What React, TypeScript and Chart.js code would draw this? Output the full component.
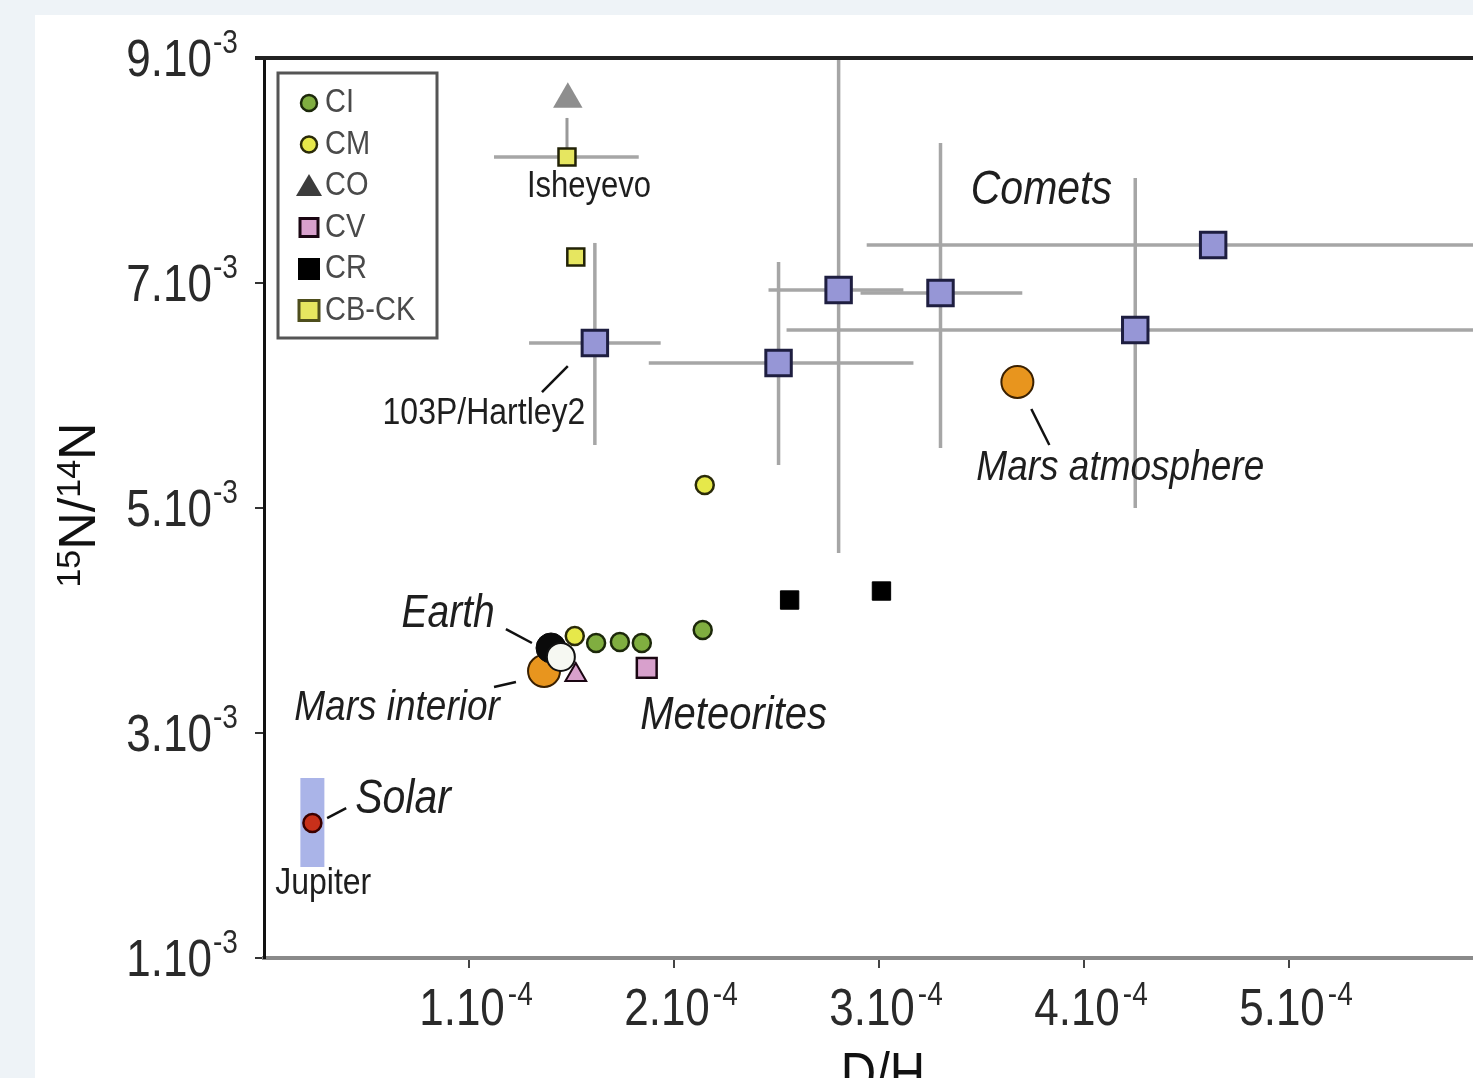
import React, { useEffect, useRef } from "react";
import { Chart, registerables } from "chart.js";

Chart.register(...registerables);

// ---------------- data: D/H (x) and 15N/14N (y) ----------------
const ciDH = [1.62e-4, 1.736e-4, 1.843e-4, 2.14e-4];
const ciN = [3.8e-3, 3.809e-3, 3.8e-3, 3.916e-3];
const cmDH = [1.516e-4, 2.15e-4];
const cmN = [3.862e-3, 5.204e-3];
const cvDH = [1.867e-4];
const cvN = [3.578e-3];
const cvTriDH = [1.521e-4];
const cvTriN = [3.516e-3];
const crDH = [2.564e-4, 3.012e-4];
const crN = [4.182e-3, 4.262e-3];
const cbckDH = [1.478e-4, 1.521e-4];
const cbckN = [8.12e-3, 7.231e-3];
const isheyevoLimitDH = [1.482e-4];
const isheyevoLimitN = [8.633e-3];
const isheyevoBarDH = [1.122e-4, 1.828e-4];
const isheyevoBarN = [8.12e-3, 8.467e-3];

const cometDH = [1.614e-4, 2.51e-4, 2.803e-4, 3.3e-4, 4.25e-4, 4.63e-4];
const cometN = [6.467e-3, 6.289e-3, 6.938e-3, 6.911e-3, 6.582e-3, 7.338e-3];
const cometDHlo = [1.293e-4, 1.877e-4, 2.461e-4, 2.91e-4, 2.549e-4, 2.94e-4];
const cometDHhi = [1.935e-4, 3.168e-4, 3.119e-4, 3.699e-4, 6.6e-4, 6.6e-4];
const cometNlo: (number | null)[] = [5.56e-3, 5.382e-3, 4.6e-3, 5.533e-3, 5.0e-3, null];
const cometNhi: (number | null)[] = [7.356e-3, 7.187e-3, 9.6e-3, 8.244e-3, 7.933e-3, null];

const marsAtmDH = [3.675e-4];
const marsAtmN = [6.12e-3];
const marsIntDH = [1.366e-4];
const marsIntN = [3.551e-3];
const earthDH = [1.448e-4];
const earthN = [3.676e-3];
const earthRimDH = [1.4e-4];
const earthRimN = [3.756e-3];
const solarDH = [0.236e-4];
const solarN = [2.2e-3];
const jupiterDH = [0.236e-4];
const jupiterNlo = [1.809e-3];
const jupiterNhi = [2.6e-3];

const xTicks = [1e-4, 2e-4, 3e-4, 4e-4, 5e-4];
const xTickMain = ["1.10", "2.10", "3.10", "4.10", "5.10"];
const xTickSup = "-4";
const yTicks = [1e-3, 3e-3, 5e-3, 7e-3, 9e-3];
const yTickMain = ["1.10", "3.10", "5.10", "7.10", "9.10"];
const yTickSup = "-3";

const legendLabels = ["CI", "CM", "CO", "CV", "CR", "CB-CK"];

const noteTexts = ["Isheyevo", "Comets", "103P/Hartley2", "Mars atmosphere", "Earth", "Mars interior", "Meteorites", "Solar", "Jupiter"];
const noteDH = [1.585e-4, 3.792e-4, 1.073e-4, 4.177e-4, 0.898e-4, 0.649e-4, 2.291e-4, 0.678e-4, 0.289e-4];
const noteN = [7.853e-3, 7.818e-3, 5.836e-3, 5.356e-3, 4.058e-3, 3.222e-3, 3.151e-3, 2.404e-3, 1.658e-3];

const leaderDH1 = [1.356e-4, 3.743e-4, 1.18e-4, 1.122e-4, 0.308e-4];
const leaderN1 = [6.031e-3, 5.88e-3, 3.924e-3, 3.409e-3, 2.244e-3];
const leaderDH2 = [1.482e-4, 3.831e-4, 1.307e-4, 1.229e-4, 0.401e-4];
const leaderN2 = [6.262e-3, 5.56e-3, 3.8e-3, 3.453e-3, 2.333e-3];

// ---------------- styles ----------------
const FONT = '"Liberation Sans", Arial, Helvetica, sans-serif';
const SY = 1.17;
const noteItalic = [false, true, false, true, true, true, true, true, false];
const noteSize = [31, 41, 32, 37, 39, 37, 40, 41, 32];

const C = {
  ciFill: "#80ae40", ciEdge: "#1c280a",
  cmFill: "#e6e84a", cmEdge: "#2a2a08",
  coFill: "#3c3c3c",
  cvFill: "#d8a0cc", cvEdge: "#1a0612",
  cr: "#000000",
  cbFill: "#e6e660", cbEdge: "#4e4e1c",
  cometFill: "#9696d6", cometEdge: "#1e1e40",
  orange: "#e8951e", orangeEdge: "#3a2000",
  solar: "#c8301a", solarEdge: "#3a0000",
  jupiter: "#aab4e8",
  err: "#a6a6a6",
};

const W = 1480;
const H = 1080;
const AREA_LEFT = 229;
const AREA_RIGHT = 1461;
const AREA_TOP = 43;
const AREA_BOTTOM = 943;

const pts = (xs: number[], ys: number[]) => xs.map((x, i) => ({ x, y: ys[i] }));

function drawText(
  ctx: CanvasRenderingContext2D,
  s: string,
  x: number,
  y: number,
  size: number,
  o: { italic?: boolean; align?: CanvasTextAlign; baseline?: CanvasTextBaseline; color?: string; sy?: number } = {}
) {
  ctx.save();
  ctx.font = `${o.italic ? "italic " : ""}${size}px ${FONT}`;
  ctx.textAlign = o.align || "left";
  ctx.textBaseline = o.baseline || "alphabetic";
  ctx.fillStyle = o.color || "#1a1a1a";
  ctx.translate(x, y);
  ctx.scale(1, o.sy ?? SY);
  ctx.fillText(s, 0, 0);
  ctx.restore();
}

function textWidth(ctx: CanvasRenderingContext2D, s: string, size: number, italic = false) {
  ctx.save();
  ctx.font = `${italic ? "italic " : ""}${size}px ${FONT}`;
  const w = ctx.measureText(s).width;
  ctx.restore();
  return w;
}

const decorPlugin = {
  id: "decor",
  afterDraw(chart: any) {
    const { ctx, chartArea } = chart;
    const xs = chart.scales.x;
    const ys = chart.scales.y;

    // top frame line
    ctx.save();
    ctx.strokeStyle = "#222";
    ctx.lineWidth = 4;
    ctx.beginPath();
    ctx.moveTo(chartArea.left - 9, chartArea.top);
    ctx.lineTo(chart.width, chartArea.top);
    ctx.stroke();
    ctx.restore();

    // y tick labels
    yTicks.forEach((v, i) => {
      const py = ys.getPixelForValue(v);
      drawText(ctx, yTickMain[i], 177, py + 18, 44, { align: "right", color: "#2a2a2a" });
      drawText(ctx, yTickSup, 178, py - 5, 28, { color: "#2a2a2a" });
    });

    // x tick labels
    xTicks.forEach((v, i) => {
      const px = xs.getPixelForValue(v) - 7;
      const w = textWidth(ctx, xTickMain[i], 44);
      drawText(ctx, xTickMain[i], px, chartArea.bottom + 67, 44, { align: "center", color: "#2a2a2a" });
      drawText(ctx, xTickSup, px + w / 2 + 3, chartArea.bottom + 47, 28, { color: "#2a2a2a" });
    });

    // y title: 15N/14N
    ctx.save();
    ctx.translate(60, (chartArea.top + chartArea.bottom) / 2 - 3);
    ctx.rotate(-Math.PI / 2);
    ctx.fillStyle = "#111";
    ctx.textBaseline = "alphabetic";
    const parts: [string, number, number][] = [["15", 34, -15], ["N/", 52, 0], ["14", 34, -15], ["N", 52, 0]];
    let total = 0;
    parts.forEach(([s, sz]) => (total += textWidth(ctx, s, sz)));
    let cx = -total / 2;
    parts.forEach(([s, sz, dy]) => {
      ctx.font = `${sz}px ${FONT}`;
      ctx.fillText(s, cx, dy);
      cx += ctx.measureText(s).width;
    });
    ctx.restore();

    // x title
    drawText(ctx, "D/H", 848, 1078, 49, { align: "center", color: "#111" });

    // annotations
    noteTexts.forEach((t, i) => {
      drawText(ctx, t, xs.getPixelForValue(noteDH[i]), ys.getPixelForValue(noteN[i]), noteSize[i], {
        italic: noteItalic[i],
        align: "center",
        baseline: "middle",
        color: "#1e1e1e",
      });
    });

    // legend box
    ctx.save();
    const bx = chartArea.left + 14;
    const by = chartArea.top + 15;
    ctx.strokeStyle = "#555";
    ctx.lineWidth = 3;
    ctx.strokeRect(bx, by, 159, 265);
    const mx = bx + 31;
    legendLabels.forEach((lab, i) => {
      const yy = by + 30 + i * 41.5;
      ctx.lineWidth = 2.5;
      if (lab === "CI" || lab === "CM") {
        ctx.beginPath();
        ctx.arc(mx, yy, 8, 0, Math.PI * 2);
        ctx.fillStyle = lab === "CI" ? C.ciFill : C.cmFill;
        ctx.strokeStyle = lab === "CI" ? C.ciEdge : C.cmEdge;
        ctx.fill();
        ctx.stroke();
      } else if (lab === "CO") {
        ctx.beginPath();
        ctx.moveTo(mx, yy - 12);
        ctx.lineTo(mx - 13, yy + 10);
        ctx.lineTo(mx + 13, yy + 10);
        ctx.closePath();
        ctx.fillStyle = C.coFill;
        ctx.fill();
      } else if (lab === "CV") {
        ctx.fillStyle = C.cvFill;
        ctx.strokeStyle = C.cvEdge;
        ctx.lineWidth = 3;
        ctx.fillRect(mx - 9, yy - 9, 18, 18);
        ctx.strokeRect(mx - 9, yy - 9, 18, 18);
      } else if (lab === "CR") {
        ctx.fillStyle = C.cr;
        ctx.fillRect(mx - 11, yy - 11, 22, 22);
      } else {
        ctx.fillStyle = C.cbFill;
        ctx.strokeStyle = C.cbEdge;
        ctx.lineWidth = 3;
        ctx.fillRect(mx - 10, yy - 10, 20, 20);
        ctx.strokeRect(mx - 10, yy - 10, 20, 20);
      }
      drawText(ctx, lab, mx + 16, yy, 29, { baseline: "middle", color: "#4a4a4a" });
    });
    ctx.restore();
  },
};

function buildDatasets() {
  const ds: any[] = [];
  const bar = (data: { x: number; y: number }[], color = C.err, width = 3.5, order = 50) => ({
    type: "line",
    data,
    borderColor: color,
    borderWidth: width,
    borderCapStyle: "butt",
    pointRadius: 0,
    fill: false,
    tension: 0,
    order,
  });

  // Jupiter band
  ds.push(bar([{ x: jupiterDH[0], y: jupiterNlo[0] }, { x: jupiterDH[0], y: jupiterNhi[0] }], C.jupiter, 24, 100));

  // comet error bars
  cometDH.forEach((x, i) => {
    ds.push(bar([{ x: cometDHlo[i], y: cometN[i] }, { x: cometDHhi[i], y: cometN[i] }]));
    const lo = cometNlo[i];
    const hi = cometNhi[i];
    if (lo != null && hi != null) ds.push(bar([{ x, y: lo }, { x, y: hi }]));
  });
  // Isheyevo bars
  ds.push(bar([{ x: isheyevoBarDH[0], y: cbckN[0] }, { x: isheyevoBarDH[1], y: cbckN[0] }]));
  ds.push(bar([{ x: cbckDH[0], y: isheyevoBarN[0] }, { x: cbckDH[0], y: isheyevoBarN[1] }], "#999", 3));

  // leader lines
  leaderDH1.forEach((x, i) => {
    ds.push(bar([{ x, y: leaderN1[i] }, { x: leaderDH2[i], y: leaderN2[i] }], "#111", 2.5, 45));
  });

  const sc = (label: string, data: any[], style: any, order: number) => ({
    type: "scatter",
    label,
    data,
    order,
    ...style,
  });

  ds.push(sc("Isheyevo limit", pts(isheyevoLimitDH, isheyevoLimitN), { pointStyle: "triangle", pointRadius: 17, backgroundColor: "#8e8e8e", borderWidth: 0 }, 40));
  ds.push(sc("Mars interior", pts(marsIntDH, marsIntN), { pointStyle: "circle", pointRadius: 16, backgroundColor: C.orange, borderColor: C.orangeEdge, borderWidth: 2 }, 36));
  ds.push(sc("Earth rim", pts(earthRimDH, earthRimN), { pointStyle: "circle", pointRadius: 15, backgroundColor: "#0a0a0a", borderColor: "#0a0a0a", borderWidth: 1 }, 35));
  ds.push(sc("Earth", pts(earthDH, earthN), { pointStyle: "circle", pointRadius: 14, backgroundColor: "#f6f8f2", borderColor: "#111", borderWidth: 2 }, 34));
  ds.push(sc("Mars atmosphere", pts(marsAtmDH, marsAtmN), { pointStyle: "circle", pointRadius: 16, backgroundColor: C.orange, borderColor: C.orangeEdge, borderWidth: 2 }, 30));
  ds.push(sc("Comets", pts(cometDH, cometN), { pointStyle: "rect", pointRadius: 18, backgroundColor: C.cometFill, borderColor: C.cometEdge, borderWidth: 3 }, 20));
  ds.push(sc("CV triangle", pts(cvTriDH, cvTriN), { pointStyle: "triangle", pointRadius: 12, backgroundColor: C.cvFill, borderColor: C.cvEdge, borderWidth: 2 }, 15));
  ds.push(sc("CV", pts(cvDH, cvN), { pointStyle: "rect", pointRadius: 14, backgroundColor: C.cvFill, borderColor: C.cvEdge, borderWidth: 2.5 }, 14));
  ds.push(sc("CR", pts(crDH, crN), { pointStyle: "rect", pointRadius: 13, backgroundColor: C.cr, borderColor: C.cr, borderWidth: 1 }, 13));
  ds.push(sc("CB-CK", pts(cbckDH, cbckN), { pointStyle: "rect", pointRadius: 12, backgroundColor: C.cbFill, borderColor: "#222206", borderWidth: 2.5 }, 12));
  ds.push(sc("CI", pts(ciDH, ciN), { pointStyle: "circle", pointRadius: 9, backgroundColor: C.ciFill, borderColor: C.ciEdge, borderWidth: 2.5 }, 11));
  ds.push(sc("CM", pts(cmDH, cmN), { pointStyle: "circle", pointRadius: 9, backgroundColor: C.cmFill, borderColor: C.cmEdge, borderWidth: 2.5 }, 10));
  ds.push(sc("Solar", pts(solarDH, solarN), { pointStyle: "circle", pointRadius: 9, backgroundColor: C.solar, borderColor: C.solarEdge, borderWidth: 2.5 }, 9));
  return ds;
}

export default function App() {
  const ref = useRef<HTMLCanvasElement | null>(null);

  useEffect(() => {
    if (!ref.current) return;
    const chart = new Chart(ref.current, {
      type: "scatter",
      data: { datasets: buildDatasets() },
      options: {
        animation: false,
        responsive: false,
        maintainAspectRatio: false,
        events: [],
        layout: { padding: { left: 0, top: AREA_TOP, right: W - AREA_RIGHT, bottom: 0 } },
        plugins: { legend: { display: false }, tooltip: { enabled: false }, title: { display: false } },
        scales: {
          x: {
            type: "linear",
            min: 0,
            max: 6e-4,
            afterBuildTicks: (s: any) => {
              s.ticks = xTicks.map((v) => ({ value: v }));
            },
            afterFit: (s: any) => {
              s.height = H - AREA_BOTTOM;
            },
            ticks: { display: false },
            grid: { drawOnChartArea: false, drawTicks: true, tickLength: 10, color: "#444", lineWidth: 2 },
            border: { display: true, color: "#8a8a8a", width: 4 },
          },
          y: {
            type: "linear",
            min: 1e-3,
            max: 9e-3,
            afterBuildTicks: (s: any) => {
              s.ticks = yTicks.map((v) => ({ value: v }));
            },
            afterFit: (s: any) => {
              s.width = AREA_LEFT;
            },
            ticks: { display: false },
            grid: { drawOnChartArea: false, drawTicks: true, tickLength: 9, color: "#333", lineWidth: 2 },
            border: { display: true, color: "#111", width: 3 },
          },
        },
      } as any,
      plugins: [decorPlugin],
    });
    return () => chart.destroy();
  }, []);

  return (
    <div style={{ position: "fixed", inset: 0, background: "#eef3f7", overflow: "hidden" }}>
      <div style={{ position: "absolute", left: 35, top: 15, right: 0, bottom: 0, background: "#ffffff", overflow: "hidden" }}>
        <canvas ref={ref} width={W} height={H} style={{ display: "block", width: W, height: H }} />
      </div>
    </div>
  );
}
